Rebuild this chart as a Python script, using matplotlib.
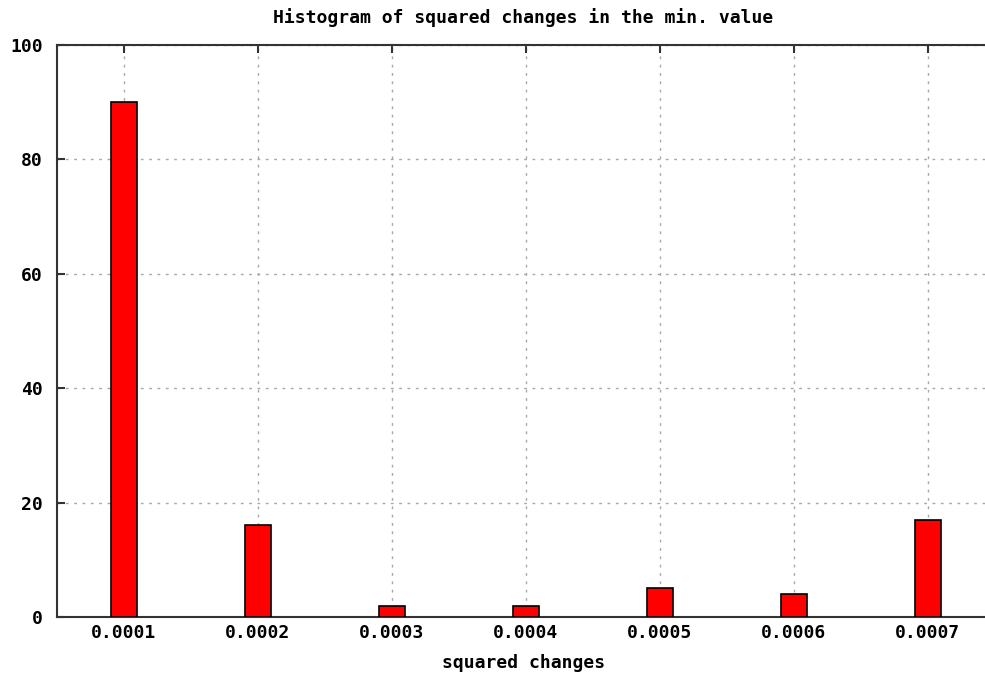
import matplotlib
matplotlib.use('Agg')
import matplotlib.pyplot as plt

bins = [0.0001, 0.0002, 0.0003, 0.0004, 0.0005, 0.0006, 0.0007]
counts = [90, 16, 2, 2, 5, 4, 17]
tick_labels = ['0.0001', '0.0002', '0.0003', '0.0004', '0.0005', '0.0006', '0.0007']
y_ticks = [0, 20, 40, 60, 80, 100]

plt.rcParams['font.family'] = 'DejaVu Sans Mono'
plt.rcParams['font.weight'] = 'bold'

fig = plt.figure(figsize=(9.85, 6.73), dpi=100)
# eixo ultrapassa a borda direita, como na imagem original
ax = fig.add_axes([57 / 985, 1 - 617 / 673, 938 / 985, 572 / 673])

ax.bar(bins, counts, width=0.00002, color='#ff0000', edgecolor='black', linewidth=1.2, zorder=3)

ax.set_xlim(0.00005, 0.00075)
ax.set_ylim(0, 100)
ax.set_xticks(bins)
ax.set_xticklabels(tick_labels)
ax.set_yticks(y_ticks)

ax.grid(True, color='#a8a8a8', linestyle=(0, (2, 4)), linewidth=1, zorder=0)
ax.tick_params(direction='in', length=6, width=1.5, color='#333333',
               labelsize=13, top=True)
ax.tick_params(axis='x', pad=5)
ax.tick_params(axis='y', pad=10)
for lbl in ax.get_xticklabels() + ax.get_yticklabels():
    lbl.set_fontweight('bold')

for s in ['top', 'left', 'bottom']:
    ax.spines[s].set_linewidth(1.5)
    ax.spines[s].set_color('#333333')
ax.spines['right'].set_visible(False)

fig.text(523 / 985, 1 - 18 / 673, 'Histogram of squared changes in the min. value',
         ha='center', va='center', fontsize=13, fontweight='bold')
fig.text(524 / 985, 1 - 663 / 673, 'squared changes',
         ha='center', va='center', fontsize=13, fontweight='bold')

plt.savefig('out.png', dpi=100)
